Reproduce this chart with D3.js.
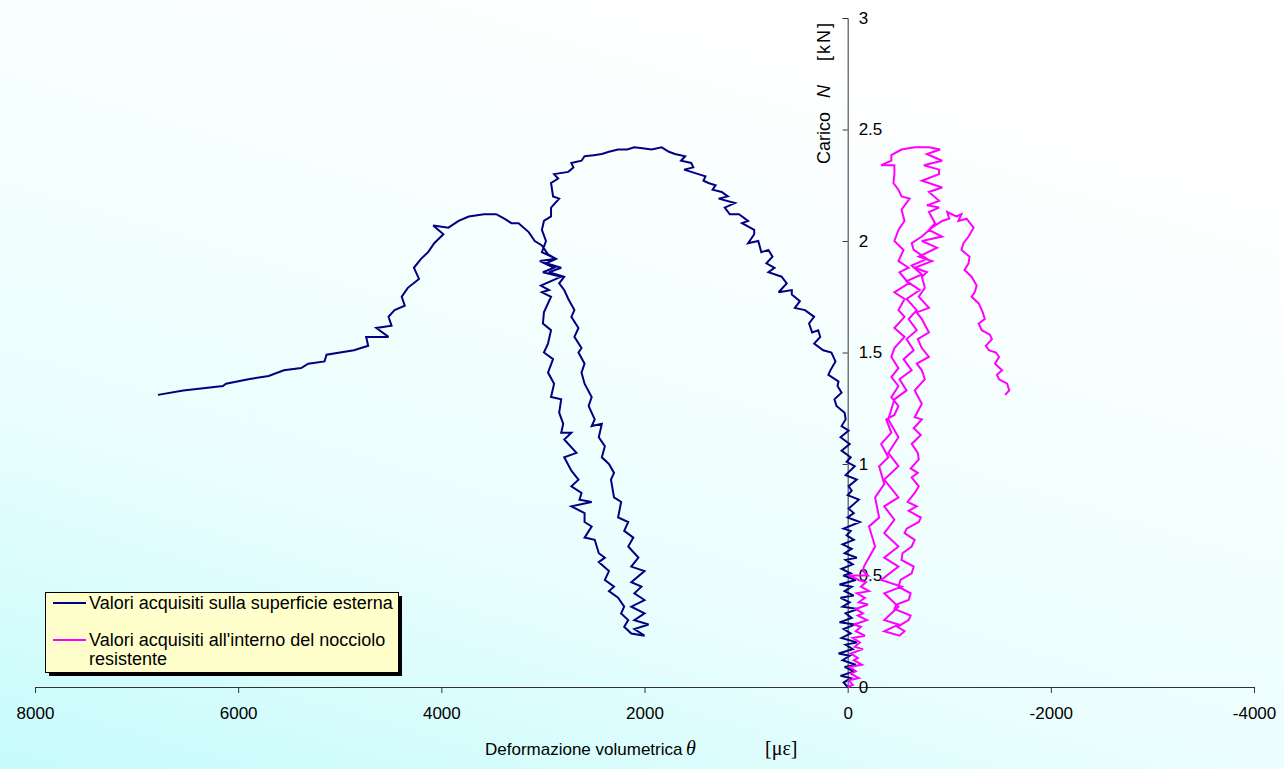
<!DOCTYPE html>
<html><head><meta charset="utf-8">
<script src="https://cdn.jsdelivr.net/npm/d3@7"></script>
<style>html,body{margin:0;padding:0;overflow:hidden;background:#fff}</style>
</head><body>
<svg id="chart" width="1284" height="769"></svg>
<script>
const xTicks = [8000, 6000, 4000, 2000, 0, -2000, -4000];
const yTicks = [0, 0.5, 1, 1.5, 2, 2.5, 3];
const seriesNames = ["Valori acquisiti sulla superficie esterna", "Valori acquisiti all'interno del nocciolo", "resistente"];
const seriesColors = ["#000080", "#ff00ff"];

// [theta (µε), N (kN)] — external surface
const surfacePoints = [
[0,0],[40,0.02],[-30,0.04],[70,0.05],[-60,0.07],[30,0.09],[-80,0.1],[50,0.12],[-20,0.14],[90,0.15],[-50,0.17],[20,0.19],[-90,0.2],[60,0.22],[-30,0.24],[40,0.26],[-70,0.28],[80,0.29],[-40,0.31],[20,0.33],[-100,0.35],[50,0.36],[-20,0.38],[70,0.4],[-60,0.41],[30,0.43],[-40,0.45],[80,0.46],[-80,0.48],[40,0.5],[-30,0.51],[60,0.53],[-50,0.55],[20,0.57],[-90,0.58],[30,0.6],[-40,0.62],[50,0.64],[-60,0.66],[10,0.68],[-30,0.7],[40,0.71],[-120,0.74],[0,0.76],[-60,0.78],[-10,0.8],[-110,0.84],[0,0.86],[-40,0.88],[-10,0.9],[-90,0.93],[20,0.95],[-70,0.99],[10,1.01],[-30,1.03],[60,1.06],
[-20,1.09],[70,1.12],[-10,1.15],[60,1.17],[20,1.20],[30,1.23],[110,1.26],[130,1.29],[60,1.32],[100,1.35],[90,1.37],[190,1.40],[170,1.42],[120,1.46],[160,1.50],[240,1.51],[330,1.54],[270,1.57],[290,1.60],[350,1.59],[380,1.63],[330,1.66],[420,1.69],[520,1.70],[470,1.73],[550,1.76],[550,1.78],[680,1.77],[600,1.81],[650,1.84],[780,1.86],[720,1.88],[800,1.90],[740,1.93],[780,1.96],[850,1.95],[880,2.00],[980,1.99],[920,2.03],[920,2.05],[1040,2.08],[980,2.09],[1070,2.12],[1160,2.12],[1210,2.15],[1110,2.17],[1270,2.19],[1180,2.20],[1240,2.22],[1330,2.23],[1300,2.25],[1370,2.26],[1420,2.27],[1400,2.29],[1470,2.30],[1610,2.32],[1520,2.33],[1540,2.35],[1640,2.36],[1600,2.38],[1700,2.39],[1760,2.40],[1830,2.42],[1930,2.41],[2000,2.415],[2100,2.42],[2170,2.41],[2260,2.41],[2350,2.40],[2420,2.39],[2500,2.385],[2590,2.38],[2620,2.36],[2720,2.35],[2700,2.33],[2750,2.31],[2890,2.30],[2850,2.28],[2920,2.26],
[2900,2.20],[2840,2.19],[2920,2.15],[2920,2.11],[2990,2.09],[3010,2.05],[2970,2.00],[3010,1.95],[2870,1.92],[3030,1.91],[2890,1.88],[3000,1.86],[2820,1.84],[3020,1.80],[2940,1.78],[3010,1.77],[2920,1.75],[2990,1.68],[3000,1.63],[2920,1.60],[2950,1.54],[2990,1.50],[2900,1.47],[2950,1.41],[2890,1.36],[2920,1.30],[2820,1.29],[2840,1.23],[2800,1.18],[2820,1.14],[2720,1.14],[2790,1.11],[2670,1.05],[2790,1.03],[2720,0.97],[2650,0.93],[2720,0.90],[2620,0.87],[2640,0.84],[2520,0.83],[2720,0.81],[2590,0.78],[2590,0.74],[2520,0.72],[2590,0.67],[2490,0.66],[2450,0.60],[2390,0.58],[2450,0.56],[2350,0.52],[2390,0.48],[2300,0.45],[2350,0.43],[2260,0.40],[2200,0.36],[2230,0.33],[2160,0.30],[2200,0.27],[2130,0.24],
[2000,0.23],[2100,0.26],[1960,0.28],[2100,0.30],[2000,0.33],[2130,0.36],[2000,0.39],[2100,0.42],[2030,0.45],[2130,0.47],[2000,0.52],[2130,0.54],[2060,0.58],[2160,0.63],[2110,0.67],[2200,0.70],[2160,0.74],[2260,0.76],[2230,0.83],[2300,0.85],[2330,0.93],[2300,0.96],[2350,1.00],[2420,1.03],[2390,1.08],[2450,1.12],[2420,1.18],[2520,1.17],[2490,1.20],[2550,1.26],[2520,1.30],[2590,1.36],[2620,1.41],[2590,1.45],[2650,1.50],[2620,1.52],[2690,1.57],[2650,1.61],[2720,1.66],[2690,1.69],[2750,1.74],[2790,1.78],[2840,1.81],[2790,1.84],[2940,1.86],[2820,1.88],[2970,1.90],[2870,1.92],[2950,1.94],
[3010,1.98],[3080,2.00],[3140,2.04],[3240,2.08],[3310,2.08],[3380,2.10],[3460,2.12],[3580,2.12],[3730,2.11],[3830,2.09],[3930,2.06],[4080,2.07],[3980,2.03],[4070,1.99],[4130,1.95],[4200,1.92],[4270,1.88],[4220,1.83],[4330,1.79],[4390,1.75],[4360,1.71],[4460,1.69],[4520,1.66],[4490,1.62],[4640,1.61],[4520,1.57],[4740,1.57],[4720,1.53],[4860,1.51],[5130,1.49],[5150,1.46],[5310,1.45],[5380,1.43],[5550,1.42],[5700,1.395],[5900,1.38],[6120,1.36],[6150,1.35],[6540,1.33],[6790,1.31]
];

// [theta (µε), N (kN)] — inside the resisting core
const corePoints = [
[0,0],[-50,0.01],[-10,0.03],[-110,0.04],[-30,0.06],[-80,0.07],[-20,0.09],[-140,0.1],[-60,0.12],[-100,0.13],[-30,0.15],[-150,0.17],[-70,0.18],[-120,0.2],[-50,0.22],[-170,0.23],[-80,0.25],[-130,0.27],[-60,0.28],[-190,0.3],[-100,0.32],[-150,0.33],[-80,0.35],[-200,0.37],[-110,0.38],[-170,0.4],[-90,0.42],[-210,0.43],[-130,0.45],[-180,0.47],[-110,0.48],[-10,0.5],[-200,0.5],[-150,0.52],[-160,0.54],
[-270,0.63],[-210,0.72],[-310,0.76],[-270,0.85],[-360,0.91],[-310,0.99],[-400,1.03],[-330,1.09],[-430,1.14],[-380,1.20],[-460,1.22],[-500,1.26],[-430,1.30],[-500,1.35],[-430,1.39],[-500,1.43],[-430,1.48],[-460,1.52],[-560,1.57],[-460,1.61],[-560,1.66],[-500,1.69],[-560,1.74],[-460,1.77],[-600,1.81],[-510,1.86],[-600,1.88],[-500,1.91],[-550,1.96],[-460,2.00],[-500,2.05],[-560,2.09],[-530,2.14],[-610,2.19],[-530,2.20],[-500,2.23],[-450,2.26],[-460,2.30],[-460,2.34],[-330,2.34],[-430,2.36],[-430,2.385],[-530,2.41],[-660,2.42],[-800,2.42],[-910,2.41],
[-780,2.39],[-930,2.36],[-750,2.34],[-900,2.32],[-900,2.30],[-730,2.27],[-930,2.24],[-800,2.22],[-900,2.18],[-780,2.16],[-900,2.15],[-800,2.13],[-860,2.08],[-800,2.05],[-930,2.02],[-730,2.00],[-880,1.97],[-700,1.93],[-830,1.91],[-660,1.88],[-780,1.86],[-730,1.84],[-760,1.79],[-700,1.75],[-800,1.70],[-680,1.68],[-730,1.65],[-800,1.59],[-690,1.56],[-730,1.52],[-800,1.48],[-680,1.45],[-730,1.42],[-760,1.38],[-660,1.33],[-730,1.27],[-660,1.21],
[-730,1.20],[-650,1.16],[-720,1.13],[-630,1.09],[-690,1.05],[-700,1.02],[-620,0.98],[-690,0.96],[-630,0.94],[-700,0.90],[-660,0.87],[-590,0.83],[-680,0.81],[-600,0.79],[-720,0.76],[-700,0.74],[-580,0.71],[-560,0.69],[-660,0.66],[-630,0.63],[-540,0.60],[-530,0.57],[-650,0.54],[-630,0.51],[-520,0.48],[-500,0.45],[-620,0.42],[-600,0.39],[-480,0.37],[-460,0.35],[-620,0.32],[-600,0.30],[-490,0.27],[-560,0.25],[-510,0.23],
[-360,0.25],[-500,0.28],[-360,0.30],[-500,0.36],[-360,0.42],[-530,0.45],[-330,0.48],[-500,0.54],[-360,0.58],[-500,0.63],[-360,0.69],[-460,0.75],[-360,0.81],[-500,0.85],[-360,0.93],[-500,0.99],[-400,1.05],[-500,1.12],[-400,1.20],[-460,1.29],[-580,1.33],[-510,1.38],[-630,1.42],[-550,1.47],[-650,1.51],[-580,1.56],[-680,1.60],[-600,1.65],[-680,1.69],[-580,1.74],[-710,1.78],[-580,1.82],[-730,1.85],[-630,1.89],[-780,1.92],[-650,1.96],[-630,1.99],
[-730,2.02],[-830,2.06],[-930,2.09],[-1000,2.10],[-980,2.13],[-1070,2.11],[-1120,2.12],[-1090,2.09],[-1170,2.10],[-1240,2.06],[-1190,2.02],[-1140,1.99],[-1120,1.96],[-1200,1.93],[-1190,1.90],[-1150,1.87],[-1220,1.84],[-1270,1.80],[-1250,1.77],[-1220,1.75],[-1290,1.72],[-1330,1.68],[-1350,1.65],[-1290,1.63],[-1320,1.60],[-1400,1.58],[-1420,1.56],[-1360,1.53],[-1390,1.51],[-1460,1.50],[-1490,1.48],[-1450,1.45],[-1520,1.42],[-1470,1.40],[-1490,1.38],[-1570,1.36],[-1590,1.33],[-1550,1.31]
];

const W = 1284, H = 769;
const svg = d3.select("#chart");
const FONT = "'Liberation Sans', Arial, sans-serif";
const SERIF = "'Liberation Serif', 'Times New Roman', serif";

// background gradient
const defs = svg.append("defs");
const grad = defs.append("linearGradient").attr("id", "bg")
  .attr("x1", "0").attr("y1", "1").attr("x2", "0.5").attr("y2", "0");
grad.append("stop").attr("offset", "0%").attr("stop-color", "#c6fbfb");
grad.append("stop").attr("offset", "40%").attr("stop-color", "#ecfefe");
grad.append("stop").attr("offset", "100%").attr("stop-color", "#ffffff");
svg.append("rect").attr("width", W).attr("height", H).attr("fill", "url(#bg)");

const x = d3.scaleLinear().domain([8000, -4000]).range([35, 1254]);
const y = d3.scaleLinear().domain([0, 3]).range([687, 18]);

// X axis
const xAxis = d3.axisBottom(x).tickValues(xTicks).tickFormat(d => String(d)).tickSize(6).tickPadding(14);
const gx = svg.append("g").attr("transform", `translate(0,${y(0)})`).call(xAxis);
gx.select(".domain").attr("stroke", "#333").attr("stroke-width", 1);
gx.selectAll(".tick line").attr("stroke", "#333");
gx.selectAll("text").attr("font-family", FONT).attr("font-size", 17).attr("fill", "#000");

// Y axis (ticks left, labels right)
const yAxis = d3.axisLeft(y).tickValues(yTicks).tickFormat(d => String(d)).tickSize(5);
const gy = svg.append("g").attr("transform", `translate(${x(0)},0)`).call(yAxis);
gy.select(".domain").attr("stroke", "#333").attr("stroke-width", 1);
gy.selectAll(".tick line").attr("stroke", "#333");
gy.selectAll("text").attr("font-family", FONT).attr("font-size", 17).attr("fill", "#000")
  .attr("text-anchor", "start").attr("x", 11);

// Series
const line = d3.line().x(d => x(d[0])).y(d => y(d[1]));
[surfacePoints, corePoints].forEach((pts, i) => {
  svg.append("path").datum(pts).attr("d", line)
    .attr("fill", "none").attr("stroke", seriesColors[i])
    .attr("stroke-width", 2).attr("stroke-linejoin", "miter").attr("stroke-miterlimit", 3);
});

// Axis titles
svg.append("text").attr("x", 485).attr("y", 755).attr("font-family", FONT).attr("font-size", 17)
  .text("Deformazione volumetrica");
svg.append("text").attr("x", 686).attr("y", 755).attr("font-family", SERIF).attr("font-size", 20)
  .attr("font-style", "italic").text("θ");
svg.append("text").attr("x", 765).attr("y", 755).attr("font-family", SERIF).attr("font-size", 20)
  .text("[με]");

const yt = (pos, txt, italic, ls) => svg.append("text")
  .attr("transform", `translate(830,${pos}) rotate(-90)`)
  .attr("font-family", FONT).attr("font-size", 18)
  .attr("letter-spacing", ls || 0)
  .attr("font-style", italic ? "italic" : "normal").text(txt);
yt(164, "Carico", false);
yt(98, "N", true);
yt(61, "[kN]", false, 2);

// Legend
const lg = svg.append("g");
lg.append("rect").attr("x", 49).attr("y", 596).attr("width", 353).attr("height", 80).attr("fill", "#000");
lg.append("rect").attr("x", 45.5).attr("y", 592.5).attr("width", 353).attr("height", 80)
  .attr("fill", "#ffffcc").attr("stroke", "#000").attr("stroke-width", 1);
const items = [{c: seriesColors[0], ly: 603, lines: [seriesNames[0]], ty: 609},
               {c: seriesColors[1], ly: 640, lines: [seriesNames[1], seriesNames[2]], ty: 646}];
items.forEach(it => {
  lg.append("line").attr("x1", 53).attr("x2", 86).attr("y1", it.ly).attr("y2", it.ly)
    .attr("stroke", it.c).attr("stroke-width", 2);
  it.lines.forEach((t, k) => {
    lg.append("text").attr("x", 89).attr("y", it.ty + k * 19).attr("font-family", FONT)
      .attr("font-size", 18).text(t);
  });
});
</script>
</body></html>
